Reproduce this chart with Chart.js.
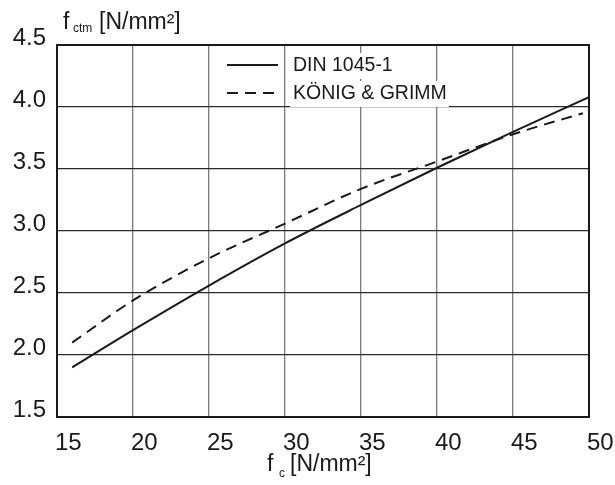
<!DOCTYPE html>
<html>
<head>
<meta charset="utf-8">
<script src="https://cdn.jsdelivr.net/npm/chart.js@4/dist/chart.umd.min.js"></script>
<style>
  html, body { margin: 0; padding: 0; background: #fff; }
  #wrap { width: 615px; height: 485px; }
</style>
</head>
<body>
<div id="wrap"><canvas id="chart" width="615" height="485"></canvas></div>
<script>
// fc [N/mm²] and fctm [N/mm²]
const fcDin = [16, 20, 25, 30, 35, 40, 45, 50];
const fctmDin = [1.90, 2.20, 2.56, 2.90, 3.21, 3.51, 3.80, 4.08];
const fcKoenig = [16, 20, 25, 30, 35, 40, 45, 49.6];
const fctmKoenig = [2.10, 2.44, 2.78, 3.06, 3.34, 3.56, 3.78, 3.95];

const seriesLabels = ['DIN 1045-1', 'KÖNIG & GRIMM'];
const xTicks = [15, 20, 25, 30, 35, 40, 45, 50];
const yTicks = [1.5, 2.0, 2.5, 3.0, 3.5, 4.0, 4.5];

const FONT = "'Liberation Sans', Arial, sans-serif";
const INK = '#1a1a1a';

const toPoints = (xs, ys) => xs.map((x, i) => ({ x, y: ys[i] }));

// legend inside the plot + frame + axis titles
const decorations = {
  id: 'decorations',
  afterDraw(chart) {
    const { ctx, chartArea: a } = chart;
    ctx.save();

    // frame
    ctx.strokeStyle = INK;
    ctx.lineWidth = 2;
    ctx.strokeRect(a.left, a.top, a.right - a.left, a.bottom - a.top);

    // legend
    const lx0 = 227, lx1 = 278, tx = 293;
    const rows = [65, 93];
    ctx.font = `19.5px ${FONT}`;
    ctx.fillStyle = '#fff';
    chart.data.datasets.forEach((ds, i) => {
      const w = ctx.measureText(ds.label).width;
      ctx.fillRect(tx - 3, rows[i] - 12, w + 5, 26);
    });
    chart.data.datasets.forEach((ds, i) => {
      ctx.beginPath();
      ctx.setLineDash(ds.borderDash || []);
      ctx.strokeStyle = ds.borderColor;
      ctx.lineWidth = ds.borderWidth;
      ctx.moveTo(lx0, rows[i]);
      ctx.lineTo(lx1, rows[i]);
      ctx.stroke();
      ctx.setLineDash([]);
      ctx.fillStyle = INK;
      ctx.textBaseline = 'middle';
      ctx.textAlign = 'left';
      ctx.fillText(ds.label, tx, rows[i] + 1);
    });

    // y axis title: f_ctm [N/mm²]
    ctx.fillStyle = INK;
    ctx.textBaseline = 'alphabetic';
    ctx.font = `23px ${FONT}`;
    ctx.fillText('f', 63, 29);
    ctx.font = `12px ${FONT}`;
    ctx.fillText('ctm', 73, 32);
    ctx.font = `23px ${FONT}`;
    ctx.fillText('[N/mm²]', 99, 29);

    // x axis title: f_c [N/mm²]
    ctx.font = `23px ${FONT}`;
    ctx.fillText('f', 267, 471);
    ctx.font = `12px ${FONT}`;
    ctx.fillText('c', 279, 477);
    ctx.font = `23px ${FONT}`;
    ctx.fillText('[N/mm²]', 290, 471);

    ctx.restore();
  }
};

new Chart(document.getElementById('chart'), {
  type: 'line',
  data: {
    datasets: [
      {
        label: seriesLabels[0],
        data: toPoints(fcDin, fctmDin),
        borderColor: INK,
        borderWidth: 2,
        pointRadius: 0,
        cubicInterpolationMode: 'monotone',
        fill: false,
      },
      {
        label: seriesLabels[1],
        data: toPoints(fcKoenig, fctmKoenig),
        borderColor: INK,
        borderWidth: 2,
        borderDash: [11, 7],
        pointRadius: 0,
        cubicInterpolationMode: 'monotone',
        fill: false,
      },
    ],
  },
  options: {
    responsive: false,
    animation: false,
    devicePixelRatio: 1,
    layout: { padding: { top: 45, right: 26, left: 0, bottom: 0 } },
    scales: {
      x: {
        type: 'linear',
        min: 15,
        max: 50,
        afterBuildTicks: (s) => { s.ticks = xTicks.map(v => ({ value: v })); },
        afterFit: (s) => { s.height = 68; s.paddingLeft = 0; s.paddingRight = 0; },
        grid: { color: '#7a7a7a', lineWidth: 1.3, drawTicks: false },
        border: { display: false },
        ticks: {
          color: INK,
          font: { family: FONT, size: 24 },
          padding: 12,
          align: 'start',
          labelOffset: -2,
          maxRotation: 0,
          autoSkip: false,
        },
      },
      y: {
        type: 'linear',
        min: 1.5,
        max: 4.5,
        afterBuildTicks: (s) => { s.ticks = yTicks.map(v => ({ value: v })); },
        afterFit: (s) => { s.width = 57; s.paddingTop = 0; s.paddingBottom = 0; },
        grid: { color: '#2a2a2a', lineWidth: 1.3, drawTicks: false },
        border: { display: false },
        ticks: {
          color: INK,
          font: { family: FONT, size: 24 },
          padding: 11,
          labelOffset: -7,
          callback: (v) => Number(v).toFixed(1),
        },
      },
    },
    plugins: {
      legend: { display: false },
      tooltip: { enabled: false },
    },
  },
  plugins: [decorations],
});
</script>
</body>
</html>
